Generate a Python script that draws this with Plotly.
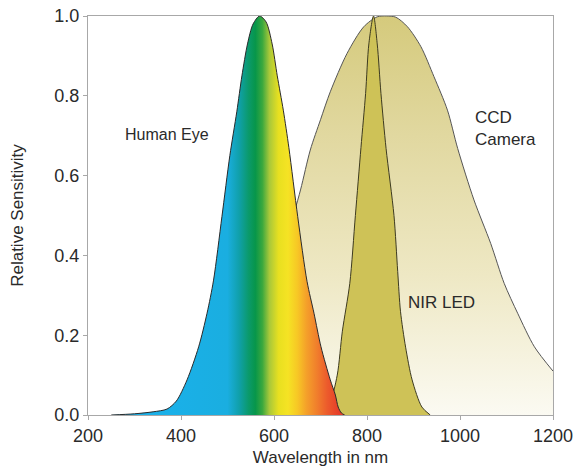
import plotly.graph_objects as go

# ---- data ----
eye_nm = [250, 300, 340, 370, 390, 413, 438, 456, 470, 488, 505, 520, 531, 543, 555, 569,
          583, 596, 607, 620, 632, 651, 671, 686, 701, 721, 732, 738, 745, 752]
eye_val = [0.0, 0.003, 0.008, 0.015, 0.035, 0.088, 0.171, 0.255, 0.338, 0.497, 0.65, 0.76,
           0.85, 0.93, 0.98, 1.0, 0.985, 0.93, 0.85, 0.764, 0.67, 0.497, 0.335, 0.255, 0.171,
           0.088, 0.05, 0.02, 0.005, 0.0]

ccd_nm = [450, 500, 550, 600, 630, 657, 678, 700, 721, 757, 793, 822, 842, 862, 887, 916,
          944, 973, 995, 1030, 1066, 1095, 1124, 1160, 1200]
ccd_val = [0.0, 0.03, 0.12, 0.3, 0.45, 0.564, 0.664, 0.74, 0.81, 0.906, 0.973, 0.998, 1.0,
           0.997, 0.973, 0.923, 0.848, 0.764, 0.668, 0.539, 0.43, 0.33, 0.255, 0.171, 0.11]

nir_nm = [700, 720, 736, 747, 763, 775, 787, 797, 804, 814, 822, 830, 841, 858, 866, 872,
          883, 897, 918, 936]
nir_val = [0.0, 0.03, 0.10, 0.21, 0.33, 0.50, 0.67, 0.806, 0.93, 1.0, 0.93, 0.806, 0.668,
           0.50, 0.36, 0.26, 0.17, 0.088, 0.02, 0.0]

x_ticks = [200, 400, 600, 800, 1000, 1200]
y_ticks = [0.0, 0.2, 0.4, 0.6, 0.8, 1.0]

# spectrum colours for the human-eye curve (nm, colour)
spec_nm = [380, 500, 525, 545, 560, 575, 590, 610, 630, 650, 670, 695, 715, 740]
spec_col = ["#1ab0e8", "#1aaee0", "#10a0aa", "#0b9a6c", "#07964a", "#3aa83e", "#a8c83a",
            "#e8e020", "#f5e324", "#f7c825", "#f4a02a", "#f07a2c", "#ec5a2c", "#e53d29"]

FONT = "Liberation Sans, Arial, Helvetica, sans-serif"
TXT = "#2a2a2a"

fig = go.Figure()

# CCD camera (behind)
fig.add_trace(go.Scatter(
    x=ccd_nm, y=ccd_val, mode="lines", line=dict(color="#555555", width=1, shape="spline", smoothing=0.8),
    fill="tozeroy",
    fillgradient=dict(type="vertical", start=0, stop=1,
                      colorscale=[[0, "#fbfaf2"], [0.35, "#eee8c4"], [0.7, "#e1d8a0"], [1, "#d5ca7c"]]),
    hoverinfo="skip", showlegend=False))

# NIR LED
fig.add_trace(go.Scatter(
    x=nir_nm, y=nir_val, mode="lines", line=dict(color="#3d3a20", width=1, shape="spline", smoothing=0.8),
    fill="tozeroy", fillcolor="#cec257", hoverinfo="skip", showlegend=False))

# Human eye (front)
lo, hi = spec_nm[0], spec_nm[-1]
fig.add_trace(go.Scatter(
    x=eye_nm, y=eye_val, mode="lines", line=dict(color="#2a2a2a", width=1, shape="spline", smoothing=0.8),
    fill="tozeroy",
    fillgradient=dict(type="horizontal", start=lo, stop=hi,
                      colorscale=[[(n - lo) / (hi - lo), c] for n, c in zip(spec_nm, spec_col)]),
    hoverinfo="skip", showlegend=False))

fig.add_annotation(x=275, y=0.704, text="Human Eye", showarrow=False, xanchor="left", yanchor="middle",
                   font=dict(family=FONT, size=16, color=TXT))
fig.add_annotation(x=1028, y=0.719, text="CCD<br>Camera", showarrow=False, xanchor="left", yanchor="middle",
                   align="left", font=dict(family=FONT, size=17, color=TXT))
fig.add_annotation(x=883, y=0.281, text="NIR LED", showarrow=False, xanchor="left", yanchor="middle",
                   font=dict(family=FONT, size=17, color=TXT))

axis_common = dict(showgrid=False, zeroline=False, showline=True, linecolor="#a8a8a8", linewidth=1,
                   mirror=True, ticks="outside", ticklen=4, tickcolor="#a8a8a8", automargin=False,
                   tickfont=dict(family=FONT, size=18, color=TXT))

fig.update_xaxes(range=[200, 1200], tickvals=x_ticks, ticktext=[str(v) for v in x_ticks],
                 title=dict(text="Wavelength in nm", font=dict(family=FONT, size=17, color=TXT), standoff=6),
                 **axis_common)
fig.update_yaxes(range=[0, 1.0], tickvals=y_ticks, ticktext=[f"{v:.1f}" for v in y_ticks],
                 title=dict(text="Relative Sensitivity", font=dict(family=FONT, size=17, color=TXT), standoff=26),
                 **axis_common)

fig.update_layout(width=579, height=468, margin=dict(l=88, r=26, t=16, b=53, autoexpand=False),
                  plot_bgcolor="white", paper_bgcolor="white", font=dict(family=FONT, color=TXT))

fig.write_html("out.html", config={"displayModeBar": False},
               post_script="document.body.style.margin='0px';document.body.style.overflow='hidden';")
